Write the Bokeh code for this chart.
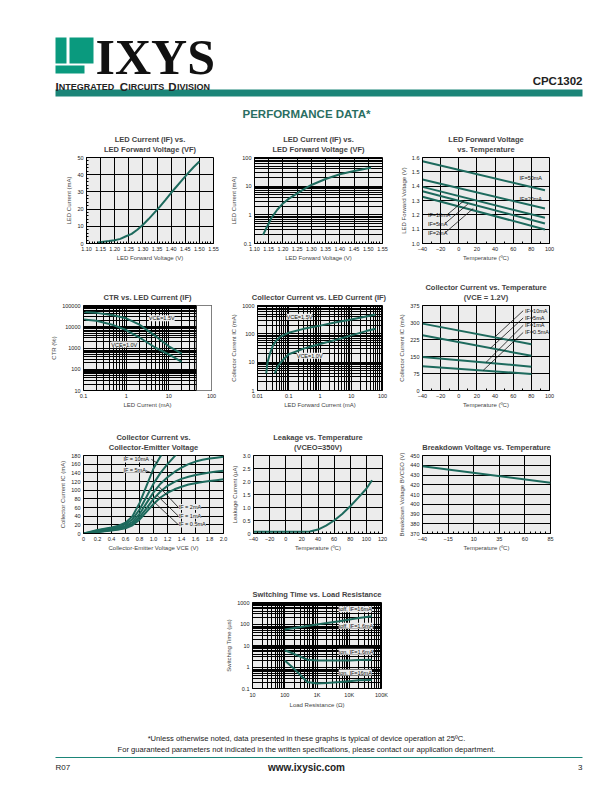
from bokeh.plotting import figure
from bokeh.models import Range1d, FixedTicker, Label, Spacer, Title, BoxAnnotation, Span
from bokeh.layouts import column, row
from bokeh.embed import file_html
from bokeh.resources import INLINE

FONT = "Liberation Sans"
TEAL = "#1b8578"
CURVE = "#1d6a5d"
BG = "#ececec"

# ---------------- data ----------------
# 1: LED current vs LED forward voltage (linear)
c1_vf = [1.14, 1.16, 1.18, 1.20, 1.22, 1.24, 1.26, 1.28, 1.30, 1.32, 1.34, 1.36, 1.38, 1.40, 1.42, 1.44, 1.46, 1.48, 1.50]
c1_if = [0.6, 1.0, 1.4, 1.9, 2.7, 4.2, 5.6, 8.0, 10.9, 14.2, 17.8, 21.4, 25.4, 29.5, 33.3, 37.1, 40.9, 44.5, 47.7]
# 2: same, log scale
c2_vf = [1.13, 1.14, 1.15, 1.16, 1.18, 1.20, 1.22, 1.25, 1.28, 1.30, 1.35, 1.40, 1.45, 1.50, 1.51]
c2_if = [0.2, 0.32, 0.5, 0.8, 1.5, 2.5, 3.6, 5.6, 8.5, 11, 17.8, 26, 34, 42, 44]
# 3: LED forward voltage vs temperature
c3_temp = [-40, 95]
c3_50ma = [1.574, 1.372]
c3_20ma = [1.447, 1.244]
c3_10ma = [1.395, 1.179]
c3_5ma = [1.365, 1.140]
c3_2ma = [1.326, 1.098]
# 4: CTR vs LED current
c4_if = [0.1, 0.2, 0.5, 1, 2, 5, 10, 20]
c4_vce15 = [50000, 45000, 35000, 25000, 13000, 3500, 1200, 550]
c4_vce10 = [22000, 19000, 12000, 7000, 3200, 1000, 500, 220]
# 5: collector current vs LED current
c5_if15 = [0.019, 0.021, 0.025, 0.031, 0.04, 0.055, 0.1, 0.3, 1, 3, 10, 30, 60]
c5_ic15 = [4, 10, 20, 38, 58, 80, 110, 150, 195, 250, 320, 410, 480]
c5_if10 = [0.036, 0.04, 0.046, 0.055, 0.07, 0.1, 0.3, 1, 3, 10, 30, 60]
c5_ic10 = [4, 5.5, 7.5, 9.6, 13, 19, 30, 44, 60, 88, 125, 150]
# 6: collector current vs temperature
c6_temp = [-40, 80]
c6_10ma = [295, 204]
c6_5ma = [244, 153]
c6_1ma = [148, 105]
c6_05ma = [107, 73]
# 7: collector current vs collector-emitter voltage
c7_vce = [0, 0.1, 0.2, 0.3, 0.4, 0.5, 0.6, 0.7, 0.8, 0.9, 1.0, 1.1, 1.2, 1.3, 1.4, 1.5, 1.6, 1.7, 1.8, 1.9, 2.0]
c7_10ma = [0, 4, 8, 11, 14, 18, 25, 40, 70, 110, 150, 178, 205, 230, 250, 265, 280, 290, 300, 310, 320]
c7_5ma = [0, 3, 7, 10, 12, 15, 21, 33, 55, 85, 115, 140, 160, 178, 195, 210, 220, 230, 240, 250, 260]
c7_2ma = [0, 2, 5, 8, 10, 12, 17, 27, 45, 70, 95, 115, 130, 142, 152, 160, 166, 170, 173, 175, 177]
c7_1ma = [0, 2, 4, 6, 8, 10, 14, 22, 38, 58, 80, 97, 110, 119, 126, 131, 135, 138, 141, 143, 145]
c7_05ma = [0, 1, 3, 5, 7, 9, 12, 19, 32, 50, 68, 83, 94, 102, 108, 113, 116, 119, 121, 123, 125]
# 8: leakage vs temperature
c8_temp = [-40, -20, 0, 20, 30, 40, 50, 60, 70, 80, 90, 100, 107]
c8_leak = [0.07, 0.07, 0.07, 0.07, 0.08, 0.15, 0.3, 0.5, 0.75, 1.05, 1.38, 1.72, 2.05]
# 9: breakdown voltage vs temperature
c9_temp = [-40, 85]
c9_bv = [439, 422]
# 10: switching time vs load resistance
c10_r = [100, 200, 500, 1000, 2000, 5000, 10000, 20000, 50000]
c10_toff16 = [55, 65, 80, 95, 110, 135, 160, 190, 230]
c10_ton16 = [6, 4, 2.2, 2.0, 2.0, 2.0, 2.0, 2.1, 2.2]
c10_ton_low = [2, 0.8, 0.2, 0.17, 0.18, 0.2, 0.22, 0.24, 0.25]

# tick labels
lin_x_vf = [1.10, 1.15, 1.20, 1.25, 1.30, 1.35, 1.40, 1.45, 1.50, 1.55]
vf_labels = {v: f"{v:.2f}" for v in lin_x_vf}
temp_ticks = [-40, -20, 0, 20, 40, 60, 80, 100]
log_labels = {0.01: "0.01", 0.1: "0.1", 1: "1", 10: "10", 100: "100", 1000: "1000",
              10000: "10000", 100000: "100000"}
res_labels = {10: "10", 100: "100", 1000: "1K", 10000: "10K", 100000: "100K"}


def decade_minors(lo_exp, hi_exp):
    out = []
    for e in range(lo_exp, hi_exp):
        for m in range(2, 10):
            out.append(m * 10.0 ** e)
    return out


def chart(w, h, bl, br, bt, bb, xr, yr, title, xlab, ylab, xticks, yticks,
          xminor=(), yminor=(), xt="linear", yt="linear", xover=None, yover=None,
          xminor_grid=False, yminor_grid=False):
    p = figure(width=w, height=h, x_range=xr, y_range=yr, x_axis_type=xt, y_axis_type=yt,
               output_backend="svg", toolbar_location=None,
               min_border_left=bl, min_border_right=br, min_border_top=bt, min_border_bottom=bb)
    lines = title.split("\n")
    p.title.text = lines[0]
    p.title.align = "center"
    p.title.text_font = FONT
    p.title.text_font_size = "7.5px"
    p.title.text_font_style = "bold"
    p.title.standoff = 8 if len(lines) == 1 else -9
    if len(lines) > 1:
        p.add_layout(Title(text=lines[1], align="center", text_font=FONT, text_font_size="7.5px",
                           text_font_style="bold", standoff=7), "above")
    p.background_fill_color = BG
    p.border_fill_color = "white"
    p.outline_line_color = "black"
    p.outline_line_width = 1
    xtk = FixedTicker(ticks=list(xticks), minor_ticks=list(xminor))
    ytk = FixedTicker(ticks=list(yticks), minor_ticks=list(yminor))
    p.xaxis.ticker = xtk
    p.yaxis.ticker = ytk
    p.xgrid.ticker = xtk
    p.ygrid.ticker = ytk
    for ax in (p.xaxis[0], p.yaxis[0]):
        ax.axis_line_color = "black"
        ax.major_tick_in = 0
        ax.major_tick_out = 0
        ax.minor_tick_in = 2
        ax.minor_tick_out = 0
        ax.minor_tick_line_color = "black"
        ax.major_label_text_font = FONT
        ax.major_label_text_font_size = "5.5px"
        ax.major_label_text_color = "#222222"
        ax.major_label_standoff = 3
        ax.axis_label_text_font = FONT
        ax.axis_label_text_font_size = "6px"
        ax.axis_label_text_font_style = "normal"
        ax.axis_label_standoff = 2
    p.xaxis.axis_label_standoff = 1
    p.xaxis.axis_label = xlab
    p.yaxis.axis_label = ylab
    if xover:
        p.xaxis.major_label_overrides = xover
    if yover:
        p.yaxis.major_label_overrides = yover
    for g in (p.xgrid[0], p.ygrid[0]):
        g.grid_line_color = "black"
        g.grid_line_alpha = 1
        g.grid_line_width = 1
    if xminor_grid:
        p.xgrid.minor_grid_line_color = "black"
        p.xgrid.minor_grid_line_width = 1
    if yminor_grid:
        p.ygrid.minor_grid_line_color = "black"
        p.ygrid.minor_grid_line_width = 1
    return p


def curve(p, x, y):
    p.line(x, y, line_color=CURVE, line_width=2)


def note(p, x, y, text, align="left", bg=None, size="5.5px"):
    lab = Label(x=x, y=y, text=text, text_font=FONT, text_font_size=size,
                text_align=align, text_baseline="middle", text_color="#111111")
    if bg:
        lab.background_fill_color = bg
    p.add_layout(lab)


def leader(p, xs, ys):
    p.line(xs, ys, line_color="#111111", line_width=0.8)


# ---------------- row 1 ----------------
c1 = chart(228, 150, 86, 15, 32, 32, Range1d(1.10, 1.55), Range1d(0, 50),
           "LED Current (IF) vs.\nLED Forward Voltage (VF)", "LED Forward Voltage (V)", "LED Current (mA)",
           lin_x_vf, [0, 10, 20, 30, 40, 50],
           xminor=[1.10 + 0.01 * i for i in range(46)], yminor=[2 * i for i in range(26)], xover=vf_labels)
curve(c1, c1_vf, c1_if)

c2 = chart(162, 150, 25, 8, 32, 32, Range1d(1.10, 1.55), Range1d(0.1, 100),
           "LED Current (IF) vs.\nLED Forward Voltage (VF)", "LED Forward Voltage (V)", "LED Current (mA)",
           lin_x_vf, [0.1, 1, 10, 100], xminor=[1.10 + 0.01 * i for i in range(46)],
           yminor=decade_minors(-1, 2), yt="log", xover=vf_labels, yover=log_labels, yminor_grid=True)
curve(c2, c2_vf, c2_if)

c3 = chart(222, 150, 32, 63, 32, 32, Range1d(-40, 100), Range1d(1.0, 1.6),
           "LED Forward Voltage\nvs. Temperature", "Temperature (ºC)", "LED Forward Voltage (V)",
           temp_ticks, [1.0, 1.1, 1.2, 1.3, 1.4, 1.5, 1.6], xminor=list(range(-40, 101, 10)),
           yover={1.0: "1.0"})
for ys in (c3_50ma, c3_20ma, c3_10ma, c3_5ma, c3_2ma):
    curve(c3, c3_temp, ys)
note(c3, 67, 1.455, "IF=50mA")
note(c3, 67, 1.31, "IF=20mA")
note(c3, -34, 1.20, "IF=10mA")
note(c3, -34, 1.135, "IF=5mA")
note(c3, -34, 1.07, "IF=2mA")
leader(c3, [-12, 6], [1.205, 1.30])
leader(c3, [-15, 10], [1.14, 1.275])
leader(c3, [-15, 16], [1.075, 1.245])

# ---------------- row 2 ----------------
c4 = chart(228, 145, 83, 17, 30, 30, Range1d(0.1, 100), Range1d(10, 100000),
           "CTR vs. LED Current (IF)", "LED Current (mA)", "CTR (%)",
           [0.1, 1, 10, 100], [10, 100, 1000, 10000, 100000],
           xminor=decade_minors(-1, 2), yminor=decade_minors(1, 5), xt="log", yt="log",
           xover=log_labels, yover=log_labels, xminor_grid=True, yminor_grid=True)
c4.xaxis.axis_line_color = None
# the printed grid stops short of the 100 mA tick: blank out that strip
c4.add_layout(BoxAnnotation(left=44, right=200, bottom=9.2, top=110000, fill_color="white",
                            fill_alpha=1, line_color=None))
c4.add_layout(Span(location=44, dimension="height", line_color="black", line_width=1))
curve(c4, c4_if, c4_vce15)
curve(c4, c4_if, c4_vce10)
note(c4, 3.4, 25000, "VCE=1.5V", bg=BG)
note(c4, 0.45, 1450, "VCE=1.0V", bg=BG)

c5 = chart(162, 145, 24, 8, 30, 30, Range1d(0.01, 100), Range1d(1, 1000),
           "Collector Current  vs. LED Current (IF)", "LED Forward Current (mA)", "Collector Current IC (mA)",
           [0.01, 0.1, 1, 10, 100], [1, 10, 100, 1000],
           xminor=decade_minors(-2, 2), yminor=decade_minors(0, 3), xt="log", yt="log",
           xover=log_labels, yover=log_labels, xminor_grid=True, yminor_grid=True)
curve(c5, c5_if15, c5_ic15)
curve(c5, c5_if10, c5_ic10)
note(c5, 0.085, 400, "VCE=1.5V", bg=BG)
note(c5, 0.18, 17, "VCE=1.0V", bg=BG)

c6 = chart(222, 145, 32, 63, 30, 30, Range1d(-40, 100), Range1d(0, 375),
           "Collector Current vs. Temperature\n(VCE = 1.2V)", "Temperature (ºC)", "Collector Current IC (mA)",
           temp_ticks, [0, 75, 150, 225, 300, 375], xminor=list(range(-40, 101, 10)))
for ys in (c6_10ma, c6_5ma, c6_1ma, c6_05ma):
    curve(c6, c6_temp, ys)
note(c6, 73, 352, "IF=10mA")
note(c6, 73, 320, "IF=5mA")
note(c6, 73, 288, "IF=1mA")
note(c6, 73, 256, "IF=0.5mA")
leader(c6, [71, 40], [352, 237])
leader(c6, [71, 35], [320, 187])
leader(c6, [71, 30], [288, 124])
leader(c6, [71, 27], [256, 89])

# ---------------- row 3 ----------------
c7_ticks = [0, 0.2, 0.4, 0.6, 0.8, 1.0, 1.2, 1.4, 1.6, 1.8, 2.0]
c7 = chart(228, 148, 83, 5, 34, 35, Range1d(0, 2.0), Range1d(0, 180),
           "Collector Current vs.\nCollector-Emitter Voltage", "Collector-Emitter Voltage VCE (V)",
           "Collector Current IC (mA)",
           c7_ticks, list(range(0, 181, 20)),
           xover={v: ("0" if v == 0 else f"{v:.1f}") for v in c7_ticks})
for ys in (c7_10ma, c7_5ma, c7_2ma, c7_1ma, c7_05ma):
    curve(c7, c7_vce, ys)
note(c7, 0.57, 171, "IF = 10mA", bg=BG)
note(c7, 0.57, 147, "IF = 5mA", bg=BG)
note(c7, 1.36, 61, "IF = 2mA", bg=BG)
note(c7, 1.36, 41, "IF = 1mA", bg=BG)
note(c7, 1.36, 21, "IF = 0.5mA", bg=BG)
leader(c7, [0.97, 1.05], [171, 163])
leader(c7, [0.86, 1.0], [147, 138])
leader(c7, [1.35, 1.08], [61, 108])
leader(c7, [1.35, 1.05], [41, 88])
leader(c7, [1.35, 1.02], [21, 71])

c8_yt = [0, 0.5, 1.0, 1.5, 2.0, 2.5, 3.0]
c8 = chart(162, 148, 25, 8, 34, 27, Range1d(-40, 120), Range1d(0, 3.0),
           "Leakage vs. Temperature\n(VCEO=350V)", "Temperature (ºC)", "Leakage Current (µA)",
           [-40, -20, 0, 20, 40, 60, 80, 100, 120], c8_yt,
           xminor=list(range(-40, 121, 5)),
           yover={v: ("0" if v == 0 else f"{v:.1f}") for v in c8_yt})
curve(c8, c8_temp, c8_leak)

c9 = chart(222, 148, 32, 62, 35, 28, Range1d(-40, 85), Range1d(370, 450),
           "Breakdown Voltage vs. Temperature", "Temperature (ºC)", "Breakdown Voltage BVCEO (V)",
           [-40, -15, 10, 35, 60, 85], list(range(370, 451, 10)), xminor=list(range(-40, 86, 5)))
curve(c9, c9_temp, c9_bv)

# ---------------- row 4 ----------------
c10 = chart(188, 152, 40, 19, 34, 32, Range1d(10, 100000), Range1d(0.1, 1000),
            "Switching Time vs. Load Resistance", "Load Resistance (Ω)", "Switching Time (µs)",
            [10, 100, 1000, 10000, 100000], [0.1, 1, 10, 100, 1000],
            xminor=decade_minors(1, 5), yminor=decade_minors(-1, 3), xt="log", yt="log",
            xover=res_labels, yover=log_labels, xminor_grid=True, yminor_grid=True)
curve(c10, c10_r, c10_toff16)
curve(c10, c10_r, c10_ton16)
curve(c10, c10_r, c10_ton_low)
note(c10, 4700, 490, "toff, IF=16mA", bg=BG)
note(c10, 4700, 82, "toff, IF=1.6mA", bg=BG)
note(c10, 4700, 5.1, "ton, IF=1.6mA", bg=BG)
note(c10, 4700, 0.55, "ton, IF=16mA", bg=BG)

# ---------------- header / footer ----------------
hdr = figure(width=612, height=125, x_range=Range1d(0, 612), y_range=Range1d(125, 0),
             output_backend="svg", toolbar_location=None, min_border=0,
             x_axis_location=None, y_axis_location=None)
hdr.grid.visible = False
hdr.outline_line_color = None
logo_l = [55, 69, 55]
logo_r = [66, 93, 84]
logo_t = [37, 37, 65]
logo_b = [63, 63, 73]
hdr.quad(left=logo_l, right=logo_r, top=logo_t, bottom=logo_b, fill_color="#0a9a7e", line_color=None)
hdr.quad(left=[55], right=[582], top=[89], bottom=[96], fill_color=TEAL, line_color=None)
hdr.add_layout(Label(x=95, y=56, text="IXYS", text_font="Liberation Serif", text_font_size="50px",
                     text_font_style="bold", text_baseline="alphabetic", text_color="#111111"))

# small-caps company line
sc_parts = [("I", 11.5), ("NTEGRATED ", 9), ("C", 11.5), ("IRCUITS ", 9), ("D", 11.5), ("IVISION", 9)]
bold_w = {"I": .278, "N": .722, "T": .611, "E": .667, "G": .778, "R": .722, "A": .722, "D": .722,
          "C": .722, "U": .722, "S": .667, "V": .667, "O": .778, " ": .278}
xpos = 55.0
for txt, sz in sc_parts:
    hdr.add_layout(Label(x=xpos, y=86, text=txt, text_font=FONT, text_font_size=f"{sz}px",
                         text_font_style="bold", text_baseline="alphabetic", text_color="#222222"))
    xpos += sum(bold_w[ch] for ch in txt) * sz * 1.04
hdr.add_layout(Label(x=582, y=80, text="CPC1302", text_font=FONT, text_font_size="11.5px",
                     text_font_style="bold", text_align="right", text_baseline="alphabetic", text_color="#222222"))
hdr.add_layout(Label(x=306, y=113, text="PERFORMANCE DATA*", text_font=FONT, text_font_size="11.5px",
                     text_font_style="bold", text_align="center", text_baseline="middle", text_color="#2a6e62"))

ftr = figure(width=612, height=72, x_range=Range1d(0, 612), y_range=Range1d(792, 720),
             output_backend="svg", toolbar_location=None, min_border=0,
             x_axis_location=None, y_axis_location=None)
ftr.grid.visible = False
ftr.outline_line_color = None
ftr.segment(x0=[55], y0=[757], x1=[582], y1=[757], line_color=TEAL, line_width=1)
ftr.add_layout(Label(x=306, y=738, text="*Unless otherwise noted, data presented in these graphs is typical of device operation at 25ºC.",
                     text_font=FONT, text_font_size="7.6px", text_align="center", text_baseline="middle", text_color="#222222"))
ftr.add_layout(Label(x=306, y=749, text="For guaranteed parameters not indicated in the written specifications, please contact our application department.",
                     text_font=FONT, text_font_size="7.6px", text_align="center", text_baseline="middle", text_color="#222222"))
ftr.add_layout(Label(x=55, y=767, text="R07", text_font=FONT, text_font_size="8px",
                     text_baseline="middle", text_color="#222222"))
ftr.add_layout(Label(x=306, y=767, text="www.ixysic.com", text_font=FONT, text_font_size="10px",
                     text_font_style="bold", text_align="center", text_baseline="middle", text_color="#222222"))
ftr.add_layout(Label(x=582, y=767, text="3", text_font=FONT, text_font_size="8px",
                     text_align="right", text_baseline="middle", text_color="#222222"))

page = column(hdr,
              row(c1, c2, c3),
              row(c4, c5, c6),
              row(c7, c8, c9),
              row(Spacer(width=212, height=152), c10),
              ftr)

open("out.html", "w").write(file_html(page, INLINE, "CPC1302"))
